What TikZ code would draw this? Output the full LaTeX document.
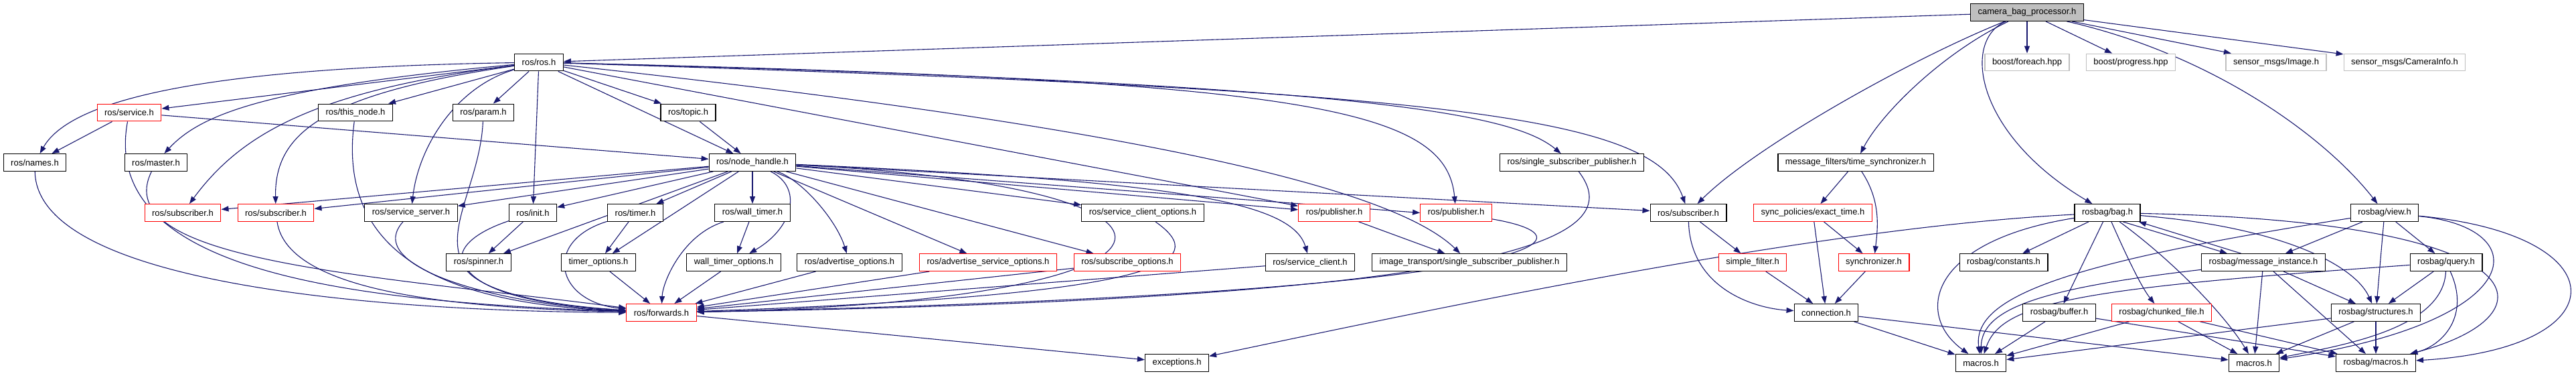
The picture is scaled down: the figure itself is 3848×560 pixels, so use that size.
\documentclass[tikz,border=0pt]{standalone}
\usepackage{fontspec}
\setmainfont{Liberation Sans}
\usepackage{xcolor}
\definecolor{edgeblue}{RGB}{25, 25, 112}
\definecolor{extgray}{RGB}{191, 191, 191}
\definecolor{brokenred}{RGB}{255, 0, 0}
\usetikzlibrary{arrows.meta,backgrounds}
\tikzset{
  filebox/.style={draw=black, line width=1.2pt, fill=white, rectangle, minimum height=25.7pt,
    inner xsep=11pt, inner ysep=0pt, font=\fontsize{13}{15}\selectfont},
  redbox/.style={filebox, draw=brokenred},
  extbox/.style={filebox, draw=extgray},
  rootbox/.style={filebox, fill=extgray},
  incl/.style={edgeblue, line width=1.1pt, -{Triangle[length=11pt,width=8pt]}}
}

\begin{document}
\begin{tikzpicture}[x=1pt, y=-1pt]
    \useasboundingbox (0,0) rectangle (3848,560);

    % top: the file itself and its external headers
    \node[rootbox] (cbp) at (3028,18.5) {camera\_bag\_processor.h};
    \node[filebox] (ros) at (805,93) {ros/ros.h};
    \node[extbox] (foreach) at (3028,93) {boost/foreach.hpp};
    \node[extbox] (progress) at (3183,93) {boost/progress.hpp};
    \node[extbox] (image) at (3400,93) {sensor\_msgs/Image.h};
    \node[extbox] (caminfo) at (3592,93) {sensor\_msgs/CameraInfo.h};

    % roscpp headers
    \node[redbox] (service) at (193,168) {ros/service.h};
    \node[filebox] (thisnode) at (531,168) {ros/this\_node.h};
    \node[filebox] (param) at (722,168) {ros/param.h};
    \node[filebox] (topic) at (1028,168) {ros/topic.h};
    \node[filebox] (names) at (52,242.5) {ros/names.h};
    \node[filebox] (master) at (233,242.5) {ros/master.h};
    \node[filebox] (nh) at (1124,242.5) {ros/node\_handle.h};
    \node[filebox] (ssp) at (2348,242.5) {ros/single\_subscriber\_publisher.h};
    \node[filebox] (timesync) at (2772,242.5) {message\_filters/time\_synchronizer.h};

    \node[redbox] (subA) at (273,317.5) {ros/subscriber.h};
    \node[redbox] (subB) at (412,317.5) {ros/subscriber.h};
    \node[filebox] (srvserver) at (614,317.5) {ros/service\_server.h};
    \node[filebox] (init) at (796,317.5) {ros/init.h};
    \node[filebox] (timer) at (949,317.5) {ros/timer.h};
    \node[filebox] (walltimer) at (1124,317.5) {ros/wall\_timer.h};
    \node[filebox] (srvclientopt) at (1707,317.5) {ros/service\_client\_options.h};
    \node[redbox] (pubA) at (1993,317.5) {ros/publisher.h};
    \node[redbox] (pubB) at (2175,317.5) {ros/publisher.h};
    \node[filebox] (subC) at (2522,317.5) {ros/subscriber.h};
    \node[redbox] (exact) at (2708,317.5) {sync\_policies/exact\_time.h};
    \node[filebox] (bag) at (3148,317.5) {rosbag/bag.h};
    \node[filebox] (view) at (3562,317.5) {rosbag/view.h};

    \node[filebox] (spinner) at (715,391.6) {ros/spinner.h};
    \node[filebox] (timeropt) at (894,391.6) {timer\_options.h};
    \node[filebox] (walltimeropt) at (1096,391.6) {wall\_timer\_options.h};
    \node[filebox] (advopt) at (1269,391.6) {ros/advertise\_options.h};
    \node[redbox] (advsrvopt) at (1476,391.6) {ros/advertise\_service\_options.h};
    \node[redbox] (subopt) at (1684,391.6) {ros/subscribe\_options.h};
    \node[filebox] (srvclient) at (1957,391.6) {ros/service\_client.h};
    \node[filebox] (itssp) at (2195,391.6) {image\_transport/single\_subscriber\_publisher.h};
    \node[redbox] (simplefilter) at (2618,391.6) {simple\_filter.h};
    \node[redbox] (sync) at (2799,391.6) {synchronizer.h};
    \node[filebox] (constants) at (2993,391.6) {rosbag/constants.h};
    \node[filebox] (msginst) at (3381,391.6) {rosbag/message\_instance.h};
    \node[filebox] (query) at (3654,391.6) {rosbag/query.h};

    \node[redbox] (forwards) at (988,466.4) {ros/forwards.h};
    \node[filebox] (connection) at (2728,466.4) {connection.h};
    \node[filebox] (buffer) at (3076,466.4) {rosbag/buffer.h};
    \node[redbox] (chunked) at (3229,466.4) {rosbag/chunked\_file.h};
    \node[filebox] (structures) at (3549,466.4) {rosbag/structures.h};

    \node[filebox] (exceptions) at (1758,541.4) {exceptions.h};
    \node[filebox] (macrosA) at (2959,541.4) {macros.h};
    \node[filebox] (macrosB) at (3367,541.4) {macros.h};
    \node[filebox] (rbmacros) at (3549,541.4) {rosbag/macros.h};

    \begin{scope}[on background layer]
    % includes of camera_bag_processor.h
    \draw[incl] (cbp) -- (ros);
    \draw[incl] (cbp) .. controls (2850,90) and (2620,220) .. (subC);
    \draw[incl] (cbp) .. controls (2900,80) and (2810,170) .. (timesync);
    \draw[incl] (cbp) .. controls (2930,60) and (2950,200) .. (bag);
    \draw[incl] (cbp) -- (foreach);
    \draw[incl] (cbp) -- (progress);
    \draw[incl] (cbp) -- (image);
    \draw[incl] (cbp) -- (caminfo);
    \draw[incl] (cbp) .. controls (3300,80) and (3470,200) .. (view);

    % ros/ros.h
    \draw[incl] (ros) .. controls (350,100) and (110,140) .. (names);
    \draw[incl] (ros) -- (service);
    \draw[incl] (ros) .. controls (400,130) and (300,170) .. (master);
    \draw[incl] (ros) .. controls (470,135) and (360,200) .. (subA);
    \draw[incl] (ros) .. controls (480,140) and (410,200) .. (subB);
    \draw[incl] (ros) -- (thisnode);
    \draw[incl] (ros) .. controls (680,130) and (625,220) .. (srvserver);
    \draw[incl] (ros) -- (param);
    \draw[incl] (ros) -- (init);
    \draw[incl] (ros) -- (nh);
    \draw[incl] (ros) -- (topic);
    \draw[incl] (ros) -- (pubA);
    \draw[incl] (ros) .. controls (1700,190) and (2080,280) .. (itssp);
    \draw[incl] (ros) .. controls (1950,120) and (2160,160) .. (pubB);
    \draw[incl] (ros) .. controls (2050,125) and (2260,170) .. (ssp);
    \draw[incl] (ros) .. controls (2150,135) and (2470,170) .. (subC);

    \draw[incl] (service) -- (names);
    \draw[incl] (service) -- (nh);
    \draw[incl] (topic) -- (nh);
    \draw[incl] (names) .. controls (55,430) and (600,465) .. (forwards);
    \draw[incl] (service) .. controls (150,400) and (500,450) .. (forwards);
    \draw[incl] (master) .. controls (160,390) and (550,410) .. (forwards);
    \draw[incl] (thisnode) .. controls (500,400) and (700,455) .. (forwards);
    \draw[incl] (param) .. controls (715,330) and (560,440) .. (forwards);

    % ros/node_handle.h
    \draw[incl] (nh) -- (subA);
    \draw[incl] (nh) -- (subB);
    \draw[incl] (nh) -- (srvserver);
    \draw[incl] (nh) -- (init);
    \draw[incl] (nh) -- (spinner);
    \draw[incl] (nh) -- (timer);
    \draw[incl] (nh) -- (timeropt);
    \draw[incl] (nh) -- (walltimer);
    \draw[incl] (nh) .. controls (1200,280) and (1185,340) .. (walltimeropt);
    \draw[incl] (nh) .. controls (1200,270) and (1250,330) .. (advopt);
    \draw[incl] (nh) -- (advsrvopt);
    \draw[incl] (nh) -- (subopt);
    \draw[incl] (nh) -- (srvclientopt);
    \draw[incl] (nh) .. controls (1750,270) and (1930,300) .. (srvclient);
    \draw[incl] (nh) -- (pubA);
    \draw[incl] (nh) -- (pubB.west);
    \draw[incl] (nh) -- (subC);
    \draw[incl] (nh) .. controls (1860,280) and (1830,450) .. (forwards);

    \draw[incl] (subB) .. controls (430,440) and (700,460) .. (forwards);
    \draw[incl] (srvserver) .. controls (540,400) and (750,455) .. (forwards);
    \draw[incl] (init) -- (spinner);
    \draw[incl] (init) .. controls (640,370) and (660,445) .. (forwards);
    \draw[incl] (timer) -- (timeropt);
    \draw[incl] (timer) .. controls (810,360) and (830,450) .. (forwards);
    \draw[incl] (walltimer) -- (walltimeropt);
    \draw[incl] (walltimer) .. controls (1020,350) and (990,420) .. (forwards);
    \draw[incl] (timeropt) -- (forwards);
    \draw[incl] (walltimeropt) -- (forwards);
    \draw[incl] (advopt) -- (forwards);
    \draw[incl] (advsrvopt) -- (forwards);
    \draw[incl] (subopt) -- (forwards);
    \draw[incl] (srvclient) -- (forwards);
    \draw[incl] (srvclientopt) .. controls (1810,390) and (1750,440) .. (forwards);
    \draw[incl] (pubB) .. controls (2420,360) and (2250,440) .. (forwards);
    \draw[incl] (ssp) .. controls (2430,350) and (2300,445) .. (forwards);
    \draw[incl] (pubA) -- (itssp);
    \draw[incl] (forwards) -- (exceptions);

    % message_filters
    \draw[incl] (timesync) -- (exact);
    \draw[incl] (timesync) .. controls (2810,300) and (2805,340) .. (sync);
    \draw[incl] (exact) -- (sync);
    \draw[incl] (exact) -- (connection);
    \draw[incl] (sync) -- (connection);
    \draw[incl] (simplefilter) -- (connection);
    \draw[incl] (subC) -- (simplefilter);
    \draw[incl] (subC) .. controls (2525,430) and (2620,460) .. (connection);
    \draw[incl] (connection) -- (macrosA);
    \draw[incl] (connection) -- (macrosB);

    % rosbag
    \draw[incl] (bag) .. controls (2700,340) and (2100,470) .. (exceptions);
    \draw[incl] (bag) .. controls (2880,360) and (2860,470) .. (macrosA);
    \draw[incl] (bag) -- (constants);
    \draw[incl] (bag) -- (buffer);
    \draw[incl] (bag) .. controls (3180,390) and (3200,430) .. (chunked);
    \draw[incl] (bag.-30) -- (msginst.166);
    \draw[incl] (bag) .. controls (3420,340) and (3520,400) .. (structures);
    \draw[incl] (bag) .. controls (3260,400) and (3330,480) .. (macrosB);
    \draw[incl] (bag) .. controls (3800,330) and (3820,470) .. (rbmacros);
    \draw[incl] (msginst.158) -- (bag.-16);
    \draw[incl] (msginst) .. controls (3050,430) and (2960,460) .. (macrosA);
    \draw[incl] (msginst) -- (macrosB);
    \draw[incl] (msginst) -- (rbmacros);
    \draw[incl] (msginst) -- (structures);
    \draw[incl] (view) -- (msginst);
    \draw[incl] (view) -- (structures);
    \draw[incl] (view) -- (query);
    \draw[incl] (view) .. controls (3100,390) and (2945,440) .. (macrosA);
    \draw[incl] (view) .. controls (3790,340) and (3780,480) .. (macrosB);
    \draw[incl] (view) .. controls (3915,350) and (3915,520) .. (rbmacros);
    \draw[incl] (query) -- (structures);
    \draw[incl] (query) .. controls (3110,430) and (2990,450) .. (macrosA);
    \draw[incl] (query) .. controls (3650,490) and (3500,515) .. (macrosB);
    \draw[incl] (query) .. controls (3690,470) and (3650,515) .. (rbmacros);
    \draw[incl] (structures) -- (macrosA);
    \draw[incl] (structures) -- (macrosB);
    \draw[incl] (structures) -- (rbmacros);
    \draw[incl] (buffer) -- (macrosA);
    \draw[incl] (buffer) -- (rbmacros);
    \draw[incl] (chunked) -- (macrosA);
    \draw[incl] (chunked) -- (macrosB);
    \draw[incl] (chunked) -- (rbmacros);
    \end{scope}
\end{tikzpicture}
\end{document}
